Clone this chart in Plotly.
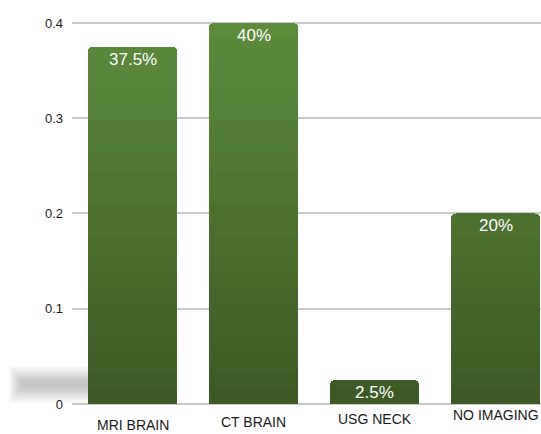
import plotly.graph_objects as go

# Imaging modality used, share of patients
categories = ["MRI BRAIN", "CT BRAIN", "USG NECK", "NO IMAGING"]
shares = [0.375, 0.40, 0.025, 0.20]
value_labels = ["37.5%", "40%", "2.5%", "20%"]
y_ticks = [0, 0.1, 0.2, 0.3, 0.4]
y_tick_text = ["0", "0.1", "0.2", "0.3", "0.4"]

# per-category drop of the axis label below the baseline (px)
label_drop = [11, 8, 5, 1]

FONT = "Liberation Sans, Arial, sans-serif"


def blend(c0, c1, t):
    return "rgb({},{},{})".format(*[round(a + (b - a) * t) for a, b in zip(c0, c1)])


# vertical shading: bars are cut into horizontal bands stacked on each other
bottom_rgb = (60, 89, 36)
top_rgb = (94, 142, 62)
n_bands = 24
band_h = 0.42 / n_bands

fig = go.Figure()
xs = list(range(len(categories)))
for k in range(n_bands):
    lo, hi = k * band_h, (k + 1) * band_h
    seg = [max(0.0, min(v, hi) - lo) for v in shares]
    if not any(seg):
        continue
    fig.add_trace(go.Bar(
        x=xs, y=seg, width=0.74,
        marker=dict(color=blend(bottom_rgb, top_rgb, (k + 0.5) / n_bands),
                    line=dict(width=0), cornerradius=5),
        hoverinfo="skip",
    ))

annotations = []
for i, (v, lab) in enumerate(zip(shares, value_labels)):
    annotations.append(dict(
        x=i, y=v, xref="x", yref="y", text=lab, showarrow=False,
        yanchor="top", yshift=-1,
        font=dict(size=17, color="white", family=FONT),
    ))
for i, (cat, drop) in enumerate(zip(categories, label_drop)):
    annotations.append(dict(
        x=i, y=0, xref="x", yref="y",
        text=cat, showarrow=False,
        yanchor="top", yshift=-drop,
        font=dict(size=14, color="#1a1a1a", family=FONT),
    ))

# soft floor shadow to the left of the first bar, built from faint layers
shapes = []
for j in range(10):
    shapes.append(dict(
        type="rect", xref="paper", yref="y",
        x0=-0.135 + 0.003 * j, x1=0.06,
        y0=0.001 + 0.0018 * j, y1=0.040 - 0.0018 * j,
        fillcolor="rgba(0,0,0,0.025)", line=dict(width=0), layer="below",
    ))

fig.update_layout(
    width=541, height=434,
    margin=dict(l=72, r=0, t=0, b=20),
    paper_bgcolor="white",
    plot_bgcolor="white",
    showlegend=False,
    barmode="stack",
    annotations=annotations,
    shapes=shapes,
    font=dict(family=FONT, color="#1a1a1a"),
)
fig.update_xaxes(
    range=[-0.5, 3.376],
    showticklabels=False, showgrid=False, zeroline=False, showline=False,
)
fig.update_yaxes(
    range=[-0.0105, 0.4241],
    tickvals=y_ticks, ticktext=y_tick_text,
    tickfont=dict(size=13, color="#1a1a1a"),
    ticklabelstandoff=8,
    showgrid=True, gridcolor="#c8c8c8", gridwidth=1.5,
    zeroline=False, showline=False,
)

fig.write_html("out.html")
